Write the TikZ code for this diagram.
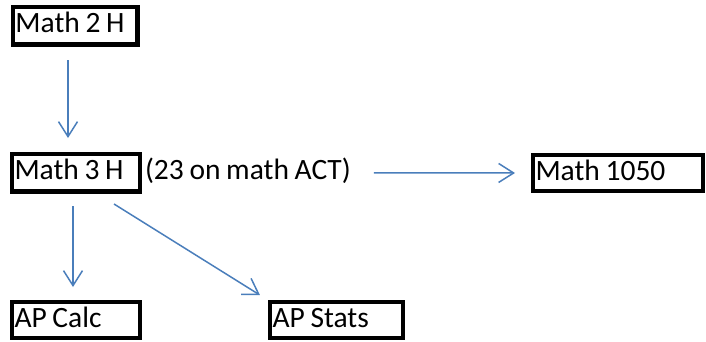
\documentclass[tikz,border=0pt]{standalone}
\usepackage{fontspec}
\setmainfont{Carlito}[WordSpace=0.85]
\usetikzlibrary{arrows.meta,calc}
\definecolor{arrowblue}{RGB}{74,126,187}
\tikzset{
  box/.style={draw=black, line width=4.5pt, rectangle, inner xsep=2.5pt, inner ysep=0pt,
    outer sep=0pt, align=flush left, text height=19pt, text depth=5pt,
    font=\fontsize{29.5}{33}\selectfont},
  plain/.style={inner sep=0pt, outer sep=0pt, text height=19pt, text depth=5pt,
    font=\fontsize{29.5}{33}\selectfont},
  conn/.style={draw=arrowblue, line width=1.5pt,
    -{Straight Barb[length=15pt,width=19pt,line width=1.5pt]}}
}
\begin{document}
\begin{tikzpicture}[x=1pt,y=-1pt]
\useasboundingbox (0,0) rectangle (706,341);
\node[box, minimum width=124.5pt, minimum height=37.5pt, text width=119.5pt] (m2) at (75.25,25.75) {Math 2 H};
\node[box, minimum width=128pt, minimum height=37.5pt, text width=123pt] (m3) at (76,172.75) {Math 3 H};
\node[plain, anchor=west] (act) at (145,172.75) {(23 on math ACT)};
\node[box, minimum width=170pt, minimum height=36pt, text width=165pt] (m1050) at (618,173) {Math 1050};
\node[box, minimum width=128pt, minimum height=36pt, text width=123pt] (calc) at (76,320) {AP Calc};
\node[box, minimum width=133pt, minimum height=36pt, text width=128pt] (stats) at (336.5,320) {AP Stats};
\draw[conn, shorten <=15.5pt, shorten >=16pt] ([xshift=-7.25pt]m2.south) -- ([xshift=-8pt]m3.north);
\draw[conn, shorten <=23pt, shorten >=18pt] (act.east) -- (m1050.west);
\draw[conn, shorten <=14.5pt, shorten >=15pt] ([xshift=-3pt]m3.south) -- ([xshift=-3pt]calc.north);
\draw[conn, shorten <=23.6pt, shorten >=13pt] ([xshift=18pt]m3.south) -- ([xshift=1pt]stats.north west);
\end{tikzpicture}
\end{document}
